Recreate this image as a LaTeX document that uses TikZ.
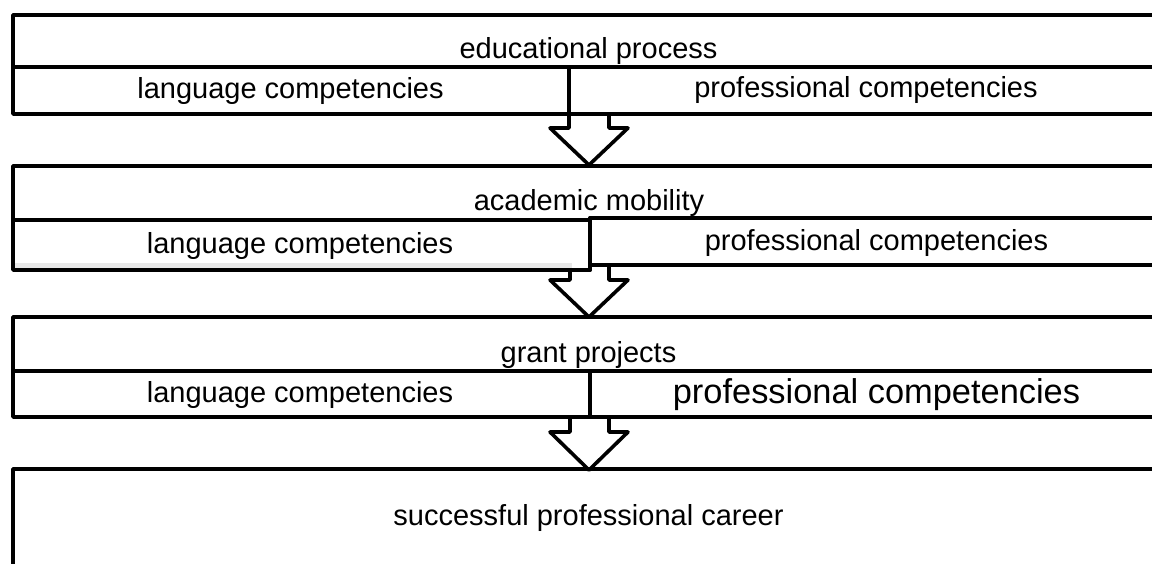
\documentclass[tikz,border=0pt]{standalone}
\usepackage{fontspec}
\setmainfont{Liberation Sans}
\begin{document}
\begin{tikzpicture}[x=0.5pt,y=-0.5pt,
  frame/.style={line width=1.8pt, line join=round, line cap=round},
  lbl/.style={inner sep=0pt, anchor=base, font=\fontsize{14.5}{17}\selectfont},
  biglbl/.style={lbl, font=\fontsize{17.2}{20}\selectfont}]
\useasboundingbox (0,0) rectangle (1152,563);
\clip (0,0) rectangle (1152,563);

% stage 1: educational process
\draw[frame] (1175,15) -- (13,15) -- (13,114) -- (1175,114);
\draw[frame] (13,67) -- (1175,67);
\draw[frame] (569,67) -- (569,114);
\node[lbl] (edu)   at (588.5,58) {educational process};
\node[lbl] (lang1) at (290.5,98) {language competencies};
\node[lbl] (prof1) at (866,97)   {professional competencies};
\draw[frame] (569,114) -- (569,128) -- (550,128) -- (589,165) -- (628,128) -- (609,128) -- (609,114);

% stage 2: academic mobility
\fill[gray!18] (15,263) rectangle (572,268);
\draw[frame] (1175,166) -- (13,166) -- (13,270) -- (590,270);
\draw[frame] (13,220) -- (590,220);
\draw[frame] (590,218) -- (1175,218);
\draw[frame] (590,218) -- (590,270);
\draw[frame] (590,265) -- (1175,265);
\node[lbl] (mob)   at (589,210)   {academic mobility};
\node[lbl] (lang2) at (300,253)   {language competencies};
\node[lbl] (prof2) at (876.5,250) {professional competencies};
\draw[frame] (570,270) -- (570,280) -- (550,280) -- (589,317) -- (628,280) -- (609,280) -- (609,265);

% stage 3: grant projects
\draw[frame] (1175,317) -- (13,317) -- (13,417) -- (1175,417);
\draw[frame] (13,371) -- (1175,371);
\draw[frame] (590,371) -- (590,417);
\node[lbl]    (grant) at (588.5,362) {grant projects};
\node[lbl]    (lang3) at (300,402)   {language competencies};
\node[biglbl] (prof3) at (876.5,403) {professional competencies};
\draw[frame] (570,417) -- (570,432) -- (550,432) -- (589,470) -- (628,432) -- (609,432) -- (609,417);

% stage 4: successful professional career
\draw[frame] (1175,469) -- (13,469) -- (13,600);
\node[lbl] (career) at (588.5,525) {successful professional career};
\end{tikzpicture}
\end{document}
